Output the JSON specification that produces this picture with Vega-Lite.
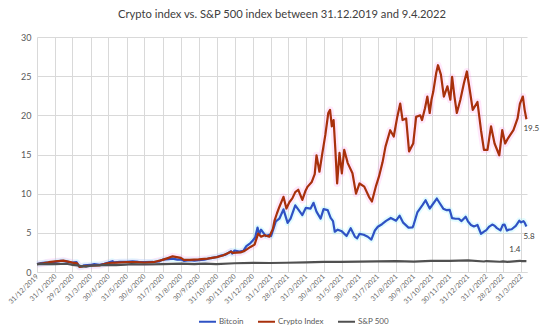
{
  "$schema": "https://vega.github.io/schema/vega-lite/v6.json",
  "width": 490,
  "height": 235,
  "autosize": {"type": "none"},
  "padding": {"left": 37, "top": 37, "right": 23, "bottom": 63},
  "background": "white",
  "title": {
    "text": "Crypto index vs. S&P 500 index between 31.12.2019 and 9.4.2022",
    "font": "Lato",
    "fontSize": 11.2,
    "fontWeight": "normal",
    "color": "#404040",
    "anchor": "middle",
    "offset": 13
  },
  "config": {
    "view": {"stroke": null},
    "font": "Lato"
  },
  "datasets": {
    "series": [
      {"d": "2019-12-31", "s": "Bitcoin", "v": 1.0},
      {"d": "2020-01-07", "s": "Bitcoin", "v": 1.13},
      {"d": "2020-01-14", "s": "Bitcoin", "v": 1.2},
      {"d": "2020-01-19", "s": "Bitcoin", "v": 1.19},
      {"d": "2020-01-25", "s": "Bitcoin", "v": 1.16},
      {"d": "2020-01-31", "s": "Bitcoin", "v": 1.3},
      {"d": "2020-02-09", "s": "Bitcoin", "v": 1.41},
      {"d": "2020-02-13", "s": "Bitcoin", "v": 1.43},
      {"d": "2020-02-20", "s": "Bitcoin", "v": 1.33},
      {"d": "2020-02-26", "s": "Bitcoin", "v": 1.23},
      {"d": "2020-02-29", "s": "Bitcoin", "v": 1.19},
      {"d": "2020-03-07", "s": "Bitcoin", "v": 1.26},
      {"d": "2020-03-12", "s": "Bitcoin", "v": 0.69},
      {"d": "2020-03-16", "s": "Bitcoin", "v": 0.7},
      {"d": "2020-03-20", "s": "Bitcoin", "v": 0.86},
      {"d": "2020-03-31", "s": "Bitcoin", "v": 0.9},
      {"d": "2020-04-06", "s": "Bitcoin", "v": 1.0},
      {"d": "2020-04-15", "s": "Bitcoin", "v": 0.92},
      {"d": "2020-04-23", "s": "Bitcoin", "v": 1.05},
      {"d": "2020-04-30", "s": "Bitcoin", "v": 1.2},
      {"d": "2020-05-07", "s": "Bitcoin", "v": 1.38},
      {"d": "2020-05-10", "s": "Bitcoin", "v": 1.22},
      {"d": "2020-05-20", "s": "Bitcoin", "v": 1.31},
      {"d": "2020-05-31", "s": "Bitcoin", "v": 1.31},
      {"d": "2020-06-10", "s": "Bitcoin", "v": 1.36},
      {"d": "2020-06-20", "s": "Bitcoin", "v": 1.3},
      {"d": "2020-06-30", "s": "Bitcoin", "v": 1.27},
      {"d": "2020-07-15", "s": "Bitcoin", "v": 1.28},
      {"d": "2020-07-25", "s": "Bitcoin", "v": 1.34},
      {"d": "2020-07-31", "s": "Bitcoin", "v": 1.58},
      {"d": "2020-08-10", "s": "Bitcoin", "v": 1.65},
      {"d": "2020-08-17", "s": "Bitcoin", "v": 1.7},
      {"d": "2020-08-25", "s": "Bitcoin", "v": 1.58},
      {"d": "2020-08-31", "s": "Bitcoin", "v": 1.62},
      {"d": "2020-09-05", "s": "Bitcoin", "v": 1.42},
      {"d": "2020-09-15", "s": "Bitcoin", "v": 1.5},
      {"d": "2020-09-23", "s": "Bitcoin", "v": 1.45},
      {"d": "2020-09-30", "s": "Bitcoin", "v": 1.5},
      {"d": "2020-10-10", "s": "Bitcoin", "v": 1.57},
      {"d": "2020-10-21", "s": "Bitcoin", "v": 1.78},
      {"d": "2020-10-31", "s": "Bitcoin", "v": 1.92},
      {"d": "2020-11-07", "s": "Bitcoin", "v": 2.1},
      {"d": "2020-11-15", "s": "Bitcoin", "v": 2.22},
      {"d": "2020-11-24", "s": "Bitcoin", "v": 2.65},
      {"d": "2020-11-26", "s": "Bitcoin", "v": 2.35},
      {"d": "2020-11-30", "s": "Bitcoin", "v": 2.74},
      {"d": "2020-12-08", "s": "Bitcoin", "v": 2.6},
      {"d": "2020-12-15", "s": "Bitcoin", "v": 2.7},
      {"d": "2020-12-20", "s": "Bitcoin", "v": 3.3},
      {"d": "2020-12-27", "s": "Bitcoin", "v": 3.7},
      {"d": "2020-12-31", "s": "Bitcoin", "v": 4.03},
      {"d": "2021-01-04", "s": "Bitcoin", "v": 4.4},
      {"d": "2021-01-08", "s": "Bitcoin", "v": 5.67},
      {"d": "2021-01-11", "s": "Bitcoin", "v": 4.8},
      {"d": "2021-01-14", "s": "Bitcoin", "v": 5.4},
      {"d": "2021-01-22", "s": "Bitcoin", "v": 4.59},
      {"d": "2021-01-28", "s": "Bitcoin", "v": 4.75},
      {"d": "2021-01-31", "s": "Bitcoin", "v": 4.6},
      {"d": "2021-02-08", "s": "Bitcoin", "v": 6.45},
      {"d": "2021-02-14", "s": "Bitcoin", "v": 6.8},
      {"d": "2021-02-21", "s": "Bitcoin", "v": 8.0},
      {"d": "2021-02-28", "s": "Bitcoin", "v": 6.27},
      {"d": "2021-03-05", "s": "Bitcoin", "v": 6.8},
      {"d": "2021-03-13", "s": "Bitcoin", "v": 8.51},
      {"d": "2021-03-18", "s": "Bitcoin", "v": 8.0},
      {"d": "2021-03-25", "s": "Bitcoin", "v": 7.27},
      {"d": "2021-03-31", "s": "Bitcoin", "v": 8.19},
      {"d": "2021-04-08", "s": "Bitcoin", "v": 8.1},
      {"d": "2021-04-13", "s": "Bitcoin", "v": 8.83},
      {"d": "2021-04-18", "s": "Bitcoin", "v": 7.7},
      {"d": "2021-04-25", "s": "Bitcoin", "v": 6.81},
      {"d": "2021-04-30", "s": "Bitcoin", "v": 8.02},
      {"d": "2021-05-07", "s": "Bitcoin", "v": 7.9},
      {"d": "2021-05-12", "s": "Bitcoin", "v": 6.9},
      {"d": "2021-05-16", "s": "Bitcoin", "v": 6.5},
      {"d": "2021-05-19", "s": "Bitcoin", "v": 5.14},
      {"d": "2021-05-24", "s": "Bitcoin", "v": 5.4},
      {"d": "2021-05-31", "s": "Bitcoin", "v": 5.19},
      {"d": "2021-06-08", "s": "Bitcoin", "v": 4.6},
      {"d": "2021-06-15", "s": "Bitcoin", "v": 5.59},
      {"d": "2021-06-22", "s": "Bitcoin", "v": 4.52},
      {"d": "2021-06-26", "s": "Bitcoin", "v": 4.3},
      {"d": "2021-06-30", "s": "Bitcoin", "v": 4.87},
      {"d": "2021-07-07", "s": "Bitcoin", "v": 4.75},
      {"d": "2021-07-14", "s": "Bitcoin", "v": 4.5},
      {"d": "2021-07-20", "s": "Bitcoin", "v": 4.14},
      {"d": "2021-07-26", "s": "Bitcoin", "v": 5.3},
      {"d": "2021-07-31", "s": "Bitcoin", "v": 5.77},
      {"d": "2021-08-07", "s": "Bitcoin", "v": 6.1},
      {"d": "2021-08-14", "s": "Bitcoin", "v": 6.53},
      {"d": "2021-08-22", "s": "Bitcoin", "v": 6.9},
      {"d": "2021-08-31", "s": "Bitcoin", "v": 6.55},
      {"d": "2021-09-06", "s": "Bitcoin", "v": 7.19},
      {"d": "2021-09-12", "s": "Bitcoin", "v": 6.3},
      {"d": "2021-09-21", "s": "Bitcoin", "v": 5.66},
      {"d": "2021-09-28", "s": "Bitcoin", "v": 5.7},
      {"d": "2021-09-30", "s": "Bitcoin", "v": 6.09},
      {"d": "2021-10-06", "s": "Bitcoin", "v": 7.6},
      {"d": "2021-10-15", "s": "Bitcoin", "v": 8.56},
      {"d": "2021-10-20", "s": "Bitcoin", "v": 9.16},
      {"d": "2021-10-27", "s": "Bitcoin", "v": 8.1},
      {"d": "2021-10-31", "s": "Bitcoin", "v": 8.52},
      {"d": "2021-11-08", "s": "Bitcoin", "v": 9.38},
      {"d": "2021-11-12", "s": "Bitcoin", "v": 8.9},
      {"d": "2021-11-19", "s": "Bitcoin", "v": 8.08},
      {"d": "2021-11-24", "s": "Bitcoin", "v": 7.9},
      {"d": "2021-11-30", "s": "Bitcoin", "v": 7.92},
      {"d": "2021-12-04", "s": "Bitcoin", "v": 6.87},
      {"d": "2021-12-10", "s": "Bitcoin", "v": 6.8},
      {"d": "2021-12-15", "s": "Bitcoin", "v": 6.8},
      {"d": "2021-12-20", "s": "Bitcoin", "v": 6.5},
      {"d": "2021-12-27", "s": "Bitcoin", "v": 7.05},
      {"d": "2021-12-31", "s": "Bitcoin", "v": 6.44},
      {"d": "2022-01-05", "s": "Bitcoin", "v": 6.0},
      {"d": "2022-01-10", "s": "Bitcoin", "v": 5.81},
      {"d": "2022-01-16", "s": "Bitcoin", "v": 6.0},
      {"d": "2022-01-22", "s": "Bitcoin", "v": 4.88},
      {"d": "2022-01-27", "s": "Bitcoin", "v": 5.15},
      {"d": "2022-01-31", "s": "Bitcoin", "v": 5.35},
      {"d": "2022-02-05", "s": "Bitcoin", "v": 5.8},
      {"d": "2022-02-10", "s": "Bitcoin", "v": 6.05},
      {"d": "2022-02-14", "s": "Bitcoin", "v": 5.9},
      {"d": "2022-02-18", "s": "Bitcoin", "v": 5.6},
      {"d": "2022-02-24", "s": "Bitcoin", "v": 5.32},
      {"d": "2022-02-28", "s": "Bitcoin", "v": 6.01},
      {"d": "2022-03-03", "s": "Bitcoin", "v": 6.05},
      {"d": "2022-03-07", "s": "Bitcoin", "v": 5.28},
      {"d": "2022-03-10", "s": "Bitcoin", "v": 5.4},
      {"d": "2022-03-15", "s": "Bitcoin", "v": 5.46},
      {"d": "2022-03-22", "s": "Bitcoin", "v": 5.9},
      {"d": "2022-03-28", "s": "Bitcoin", "v": 6.55},
      {"d": "2022-03-31", "s": "Bitcoin", "v": 6.33},
      {"d": "2022-04-04", "s": "Bitcoin", "v": 6.5},
      {"d": "2022-04-06", "s": "Bitcoin", "v": 6.3},
      {"d": "2022-04-09", "s": "Bitcoin", "v": 5.8},

      {"d": "2019-12-31", "s": "Crypto Index", "v": 1.0},
      {"d": "2020-01-10", "s": "Crypto Index", "v": 1.1},
      {"d": "2020-01-20", "s": "Crypto Index", "v": 1.25},
      {"d": "2020-01-31", "s": "Crypto Index", "v": 1.35},
      {"d": "2020-02-14", "s": "Crypto Index", "v": 1.45},
      {"d": "2020-02-29", "s": "Crypto Index", "v": 1.2},
      {"d": "2020-03-08", "s": "Crypto Index", "v": 1.1},
      {"d": "2020-03-12", "s": "Crypto Index", "v": 0.65},
      {"d": "2020-03-20", "s": "Crypto Index", "v": 0.75},
      {"d": "2020-03-31", "s": "Crypto Index", "v": 0.8},
      {"d": "2020-04-15", "s": "Crypto Index", "v": 0.85},
      {"d": "2020-04-30", "s": "Crypto Index", "v": 1.15},
      {"d": "2020-05-15", "s": "Crypto Index", "v": 1.2},
      {"d": "2020-05-31", "s": "Crypto Index", "v": 1.25},
      {"d": "2020-06-15", "s": "Crypto Index", "v": 1.25},
      {"d": "2020-06-30", "s": "Crypto Index", "v": 1.2},
      {"d": "2020-07-15", "s": "Crypto Index", "v": 1.25},
      {"d": "2020-07-31", "s": "Crypto Index", "v": 1.55},
      {"d": "2020-08-10", "s": "Crypto Index", "v": 1.8},
      {"d": "2020-08-17", "s": "Crypto Index", "v": 2.0},
      {"d": "2020-08-31", "s": "Crypto Index", "v": 1.8},
      {"d": "2020-09-05", "s": "Crypto Index", "v": 1.55},
      {"d": "2020-09-15", "s": "Crypto Index", "v": 1.55},
      {"d": "2020-09-30", "s": "Crypto Index", "v": 1.6},
      {"d": "2020-10-15", "s": "Crypto Index", "v": 1.7},
      {"d": "2020-10-31", "s": "Crypto Index", "v": 1.9},
      {"d": "2020-11-10", "s": "Crypto Index", "v": 2.1},
      {"d": "2020-11-24", "s": "Crypto Index", "v": 2.6},
      {"d": "2020-11-27", "s": "Crypto Index", "v": 2.45},
      {"d": "2020-12-10", "s": "Crypto Index", "v": 2.5},
      {"d": "2020-12-17", "s": "Crypto Index", "v": 2.7},
      {"d": "2020-12-27", "s": "Crypto Index", "v": 3.2},
      {"d": "2021-01-03", "s": "Crypto Index", "v": 3.5},
      {"d": "2021-01-09", "s": "Crypto Index", "v": 4.9},
      {"d": "2021-01-14", "s": "Crypto Index", "v": 4.5},
      {"d": "2021-01-20", "s": "Crypto Index", "v": 4.7},
      {"d": "2021-01-28", "s": "Crypto Index", "v": 4.5},
      {"d": "2021-02-03", "s": "Crypto Index", "v": 5.5},
      {"d": "2021-02-06", "s": "Crypto Index", "v": 6.6},
      {"d": "2021-02-10", "s": "Crypto Index", "v": 7.5},
      {"d": "2021-02-14", "s": "Crypto Index", "v": 8.3},
      {"d": "2021-02-21", "s": "Crypto Index", "v": 9.6},
      {"d": "2021-02-26", "s": "Crypto Index", "v": 8.1},
      {"d": "2021-03-03", "s": "Crypto Index", "v": 8.9},
      {"d": "2021-03-08", "s": "Crypto Index", "v": 9.4},
      {"d": "2021-03-13", "s": "Crypto Index", "v": 10.2},
      {"d": "2021-03-18", "s": "Crypto Index", "v": 10.5},
      {"d": "2021-03-25", "s": "Crypto Index", "v": 9.2},
      {"d": "2021-03-30", "s": "Crypto Index", "v": 10.3},
      {"d": "2021-04-03", "s": "Crypto Index", "v": 10.9},
      {"d": "2021-04-10", "s": "Crypto Index", "v": 11.5},
      {"d": "2021-04-15", "s": "Crypto Index", "v": 12.5},
      {"d": "2021-04-18", "s": "Crypto Index", "v": 14.9},
      {"d": "2021-04-23", "s": "Crypto Index", "v": 12.8},
      {"d": "2021-04-28", "s": "Crypto Index", "v": 15.2},
      {"d": "2021-05-03", "s": "Crypto Index", "v": 17.5},
      {"d": "2021-05-08", "s": "Crypto Index", "v": 20.3},
      {"d": "2021-05-11", "s": "Crypto Index", "v": 20.7},
      {"d": "2021-05-14", "s": "Crypto Index", "v": 18.6},
      {"d": "2021-05-17", "s": "Crypto Index", "v": 19.4},
      {"d": "2021-05-20", "s": "Crypto Index", "v": 15.6},
      {"d": "2021-05-23", "s": "Crypto Index", "v": 11.3},
      {"d": "2021-05-27", "s": "Crypto Index", "v": 15.2},
      {"d": "2021-05-31", "s": "Crypto Index", "v": 12.6},
      {"d": "2021-06-04", "s": "Crypto Index", "v": 15.6},
      {"d": "2021-06-10", "s": "Crypto Index", "v": 13.9},
      {"d": "2021-06-18", "s": "Crypto Index", "v": 12.6},
      {"d": "2021-06-24", "s": "Crypto Index", "v": 10.0},
      {"d": "2021-06-30", "s": "Crypto Index", "v": 11.3},
      {"d": "2021-07-08", "s": "Crypto Index", "v": 10.9},
      {"d": "2021-07-16", "s": "Crypto Index", "v": 9.6},
      {"d": "2021-07-21", "s": "Crypto Index", "v": 9.0},
      {"d": "2021-07-28", "s": "Crypto Index", "v": 11.0},
      {"d": "2021-08-02", "s": "Crypto Index", "v": 12.2},
      {"d": "2021-08-08", "s": "Crypto Index", "v": 14.0},
      {"d": "2021-08-13", "s": "Crypto Index", "v": 16.0},
      {"d": "2021-08-21", "s": "Crypto Index", "v": 18.1},
      {"d": "2021-08-27", "s": "Crypto Index", "v": 17.3},
      {"d": "2021-09-02", "s": "Crypto Index", "v": 19.8},
      {"d": "2021-09-07", "s": "Crypto Index", "v": 21.5},
      {"d": "2021-09-11", "s": "Crypto Index", "v": 19.4},
      {"d": "2021-09-17", "s": "Crypto Index", "v": 19.6},
      {"d": "2021-09-22", "s": "Crypto Index", "v": 15.4},
      {"d": "2021-09-29", "s": "Crypto Index", "v": 16.4},
      {"d": "2021-10-04", "s": "Crypto Index", "v": 19.8},
      {"d": "2021-10-11", "s": "Crypto Index", "v": 20.0},
      {"d": "2021-10-14", "s": "Crypto Index", "v": 19.4},
      {"d": "2021-10-19", "s": "Crypto Index", "v": 20.9},
      {"d": "2021-10-23", "s": "Crypto Index", "v": 22.4},
      {"d": "2021-10-27", "s": "Crypto Index", "v": 20.3},
      {"d": "2021-10-30", "s": "Crypto Index", "v": 22.0},
      {"d": "2021-11-02", "s": "Crypto Index", "v": 23.0},
      {"d": "2021-11-07", "s": "Crypto Index", "v": 25.4},
      {"d": "2021-11-10", "s": "Crypto Index", "v": 26.4},
      {"d": "2021-11-15", "s": "Crypto Index", "v": 25.2},
      {"d": "2021-11-20", "s": "Crypto Index", "v": 22.4},
      {"d": "2021-11-26", "s": "Crypto Index", "v": 23.7},
      {"d": "2021-12-01", "s": "Crypto Index", "v": 22.0},
      {"d": "2021-12-04", "s": "Crypto Index", "v": 24.9},
      {"d": "2021-12-08", "s": "Crypto Index", "v": 22.4},
      {"d": "2021-12-12", "s": "Crypto Index", "v": 20.3},
      {"d": "2021-12-18", "s": "Crypto Index", "v": 22.0},
      {"d": "2021-12-24", "s": "Crypto Index", "v": 24.1},
      {"d": "2021-12-29", "s": "Crypto Index", "v": 25.6},
      {"d": "2022-01-03", "s": "Crypto Index", "v": 23.2},
      {"d": "2022-01-08", "s": "Crypto Index", "v": 20.7},
      {"d": "2022-01-16", "s": "Crypto Index", "v": 21.7},
      {"d": "2022-01-22", "s": "Crypto Index", "v": 18.1},
      {"d": "2022-01-27", "s": "Crypto Index", "v": 15.6},
      {"d": "2022-02-02", "s": "Crypto Index", "v": 15.6},
      {"d": "2022-02-08", "s": "Crypto Index", "v": 18.6},
      {"d": "2022-02-14", "s": "Crypto Index", "v": 16.4},
      {"d": "2022-02-22", "s": "Crypto Index", "v": 14.9},
      {"d": "2022-02-27", "s": "Crypto Index", "v": 18.1},
      {"d": "2022-03-04", "s": "Crypto Index", "v": 16.4},
      {"d": "2022-03-09", "s": "Crypto Index", "v": 17.1},
      {"d": "2022-03-18", "s": "Crypto Index", "v": 18.1},
      {"d": "2022-03-25", "s": "Crypto Index", "v": 19.6},
      {"d": "2022-03-29", "s": "Crypto Index", "v": 21.5},
      {"d": "2022-04-03", "s": "Crypto Index", "v": 22.4},
      {"d": "2022-04-06", "s": "Crypto Index", "v": 20.7},
      {"d": "2022-04-09", "s": "Crypto Index", "v": 19.5},

      {"d": "2019-12-31", "s": "S&P 500", "v": 1.0},
      {"d": "2020-01-17", "s": "S&P 500", "v": 1.03},
      {"d": "2020-01-31", "s": "S&P 500", "v": 1.0},
      {"d": "2020-02-19", "s": "S&P 500", "v": 1.05},
      {"d": "2020-02-28", "s": "S&P 500", "v": 0.92},
      {"d": "2020-03-09", "s": "S&P 500", "v": 0.85},
      {"d": "2020-03-16", "s": "S&P 500", "v": 0.74},
      {"d": "2020-03-23", "s": "S&P 500", "v": 0.69},
      {"d": "2020-03-31", "s": "S&P 500", "v": 0.8},
      {"d": "2020-04-15", "s": "S&P 500", "v": 0.86},
      {"d": "2020-04-30", "s": "S&P 500", "v": 0.9},
      {"d": "2020-05-13", "s": "S&P 500", "v": 0.87},
      {"d": "2020-05-29", "s": "S&P 500", "v": 0.94},
      {"d": "2020-06-08", "s": "S&P 500", "v": 1.0},
      {"d": "2020-06-30", "s": "S&P 500", "v": 0.96},
      {"d": "2020-07-31", "s": "S&P 500", "v": 1.01},
      {"d": "2020-08-31", "s": "S&P 500", "v": 1.08},
      {"d": "2020-09-23", "s": "S&P 500", "v": 1.0},
      {"d": "2020-09-30", "s": "S&P 500", "v": 1.04},
      {"d": "2020-10-12", "s": "S&P 500", "v": 1.08},
      {"d": "2020-10-30", "s": "S&P 500", "v": 1.01},
      {"d": "2020-11-30", "s": "S&P 500", "v": 1.12},
      {"d": "2020-12-31", "s": "S&P 500", "v": 1.16},
      {"d": "2021-01-29", "s": "S&P 500", "v": 1.15},
      {"d": "2021-02-26", "s": "S&P 500", "v": 1.18},
      {"d": "2021-03-31", "s": "S&P 500", "v": 1.23},
      {"d": "2021-04-30", "s": "S&P 500", "v": 1.29},
      {"d": "2021-05-28", "s": "S&P 500", "v": 1.3},
      {"d": "2021-06-30", "s": "S&P 500", "v": 1.33},
      {"d": "2021-07-30", "s": "S&P 500", "v": 1.36},
      {"d": "2021-08-31", "s": "S&P 500", "v": 1.4},
      {"d": "2021-09-30", "s": "S&P 500", "v": 1.33},
      {"d": "2021-10-29", "s": "S&P 500", "v": 1.43},
      {"d": "2021-11-30", "s": "S&P 500", "v": 1.41},
      {"d": "2021-12-31", "s": "S&P 500", "v": 1.48},
      {"d": "2022-01-27", "s": "S&P 500", "v": 1.34},
      {"d": "2022-01-31", "s": "S&P 500", "v": 1.4},
      {"d": "2022-02-23", "s": "S&P 500", "v": 1.31},
      {"d": "2022-02-28", "s": "S&P 500", "v": 1.35},
      {"d": "2022-03-08", "s": "S&P 500", "v": 1.29},
      {"d": "2022-03-29", "s": "S&P 500", "v": 1.43},
      {"d": "2022-03-31", "s": "S&P 500", "v": 1.4},
      {"d": "2022-04-09", "s": "S&P 500", "v": 1.39}
    ],
    "labels": [
      {"d": "2022-04-09", "s": "Crypto Index", "v": 19.5, "label": "19.5"},
      {"d": "2022-04-09", "s": "Bitcoin", "v": 5.8, "label": "5.8"},
      {"d": "2022-04-09", "s": "S&P 500", "v": 1.4, "label": "1.4"}
    ]
  },
  "encoding": {
    "x": {
      "field": "d",
      "type": "temporal",
      "scale": {
        "type": "utc",
        "domain": [
          {"year": 2019, "month": 12, "date": 31, "utc": true},
          {"year": 2022, "month": 4, "date": 10, "utc": true}
        ]
      },
      "axis": {
        "title": null,
        "values": [
          {"year": 2019, "month": 12, "date": 31, "utc": true},
          {"year": 2020, "month": 1, "date": 31, "utc": true},
          {"year": 2020, "month": 2, "date": 29, "utc": true},
          {"year": 2020, "month": 3, "date": 31, "utc": true},
          {"year": 2020, "month": 4, "date": 30, "utc": true},
          {"year": 2020, "month": 5, "date": 31, "utc": true},
          {"year": 2020, "month": 6, "date": 30, "utc": true},
          {"year": 2020, "month": 7, "date": 31, "utc": true},
          {"year": 2020, "month": 8, "date": 31, "utc": true},
          {"year": 2020, "month": 9, "date": 30, "utc": true},
          {"year": 2020, "month": 10, "date": 31, "utc": true},
          {"year": 2020, "month": 11, "date": 30, "utc": true},
          {"year": 2020, "month": 12, "date": 31, "utc": true},
          {"year": 2021, "month": 1, "date": 31, "utc": true},
          {"year": 2021, "month": 2, "date": 28, "utc": true},
          {"year": 2021, "month": 3, "date": 31, "utc": true},
          {"year": 2021, "month": 4, "date": 30, "utc": true},
          {"year": 2021, "month": 5, "date": 31, "utc": true},
          {"year": 2021, "month": 6, "date": 30, "utc": true},
          {"year": 2021, "month": 7, "date": 31, "utc": true},
          {"year": 2021, "month": 8, "date": 31, "utc": true},
          {"year": 2021, "month": 9, "date": 30, "utc": true},
          {"year": 2021, "month": 10, "date": 31, "utc": true},
          {"year": 2021, "month": 11, "date": 30, "utc": true},
          {"year": 2021, "month": 12, "date": 31, "utc": true},
          {"year": 2022, "month": 1, "date": 31, "utc": true},
          {"year": 2022, "month": 2, "date": 28, "utc": true},
          {"year": 2022, "month": 3, "date": 31, "utc": true}
        ],
        "labelExpr": "utcFormat(datum.value, '%-d/%-m/%Y')",
        "labelAngle": -45,
        "labelAlign": "right",
        "labelBaseline": "middle",
        "labelFontSize": 7,
        "labelColor": "#6A6A6A",
        "labelPadding": 3,
        "labelOverlap": false,
        "labelFlush": false,
        "ticks": false,
        "grid": true,
        "gridColor": "#D9D9D9",
        "gridWidth": 1,
        "domainColor": "#D9D9D9"
      }
    },
    "y": {
      "field": "v",
      "type": "quantitative",
      "scale": {"domain": [0, 30], "nice": false, "zero": true},
      "axis": {
        "title": null,
        "values": [0, 5, 10, 15, 20, 25, 30],
        "labelFontSize": 9,
        "labelColor": "#595959",
        "labelPadding": 6,
        "ticks": false,
        "domain": false,
        "grid": true,
        "gridColor": "#D9D9D9",
        "gridWidth": 1
      }
    }
  },
  "layer": [
    {
      "data": {"name": "series"},
      "transform": [{"filter": "datum.s === 'Crypto Index'"}],
      "mark": {"type": "line", "color": "#FF8CEB", "opacity": 0.2, "strokeWidth": 7, "strokeJoin": "round"}
    },
    {
      "data": {"name": "series"},
      "transform": [{"filter": "datum.s === 'Bitcoin'"}],
      "mark": {"type": "line", "color": "#8CF5FF", "opacity": 0.25, "strokeWidth": 6, "strokeJoin": "round"}
    },
    {
      "data": {"name": "series"},
      "mark": {"type": "line", "strokeWidth": 2.2, "strokeJoin": "round"},
      "encoding": {
        "color": {
          "field": "s",
          "type": "nominal",
          "scale": {
            "domain": ["Bitcoin", "Crypto Index", "S&P 500"],
            "range": ["#2F52C4", "#A8300C", "#505050"]
          },
          "legend": {
            "title": null,
            "orient": "none",
            "direction": "horizontal",
            "legendX": 161,
            "legendY": 275,
            "symbolType": "stroke",
            "symbolSize": 289,
            "symbolStrokeWidth": 2,
            "labelFontSize": 8,
            "labelColor": "#595959",
            "labelOffset": 2,
            "columnPadding": 10
          }
        },
        "order": {"field": "d", "type": "temporal"}
      }
    },
    {
      "data": {"name": "labels"},
      "mark": {"type": "text", "fontSize": 8, "color": "#404040", "align": "left", "dx": -3},
      "transform": [{"filter": "datum.s !== 'S&P 500'"}],
      "encoding": {
        "text": {"field": "label"},
        "yOffset": {"value": 10}
      }
    },
    {
      "data": {"name": "labels"},
      "mark": {"type": "text", "fontSize": 8, "color": "#404040", "align": "right", "dx": -6, "dy": -11},
      "transform": [{"filter": "datum.s === 'S&P 500'"}],
      "encoding": {
        "text": {"field": "label"}
      }
    }
  ]
}
